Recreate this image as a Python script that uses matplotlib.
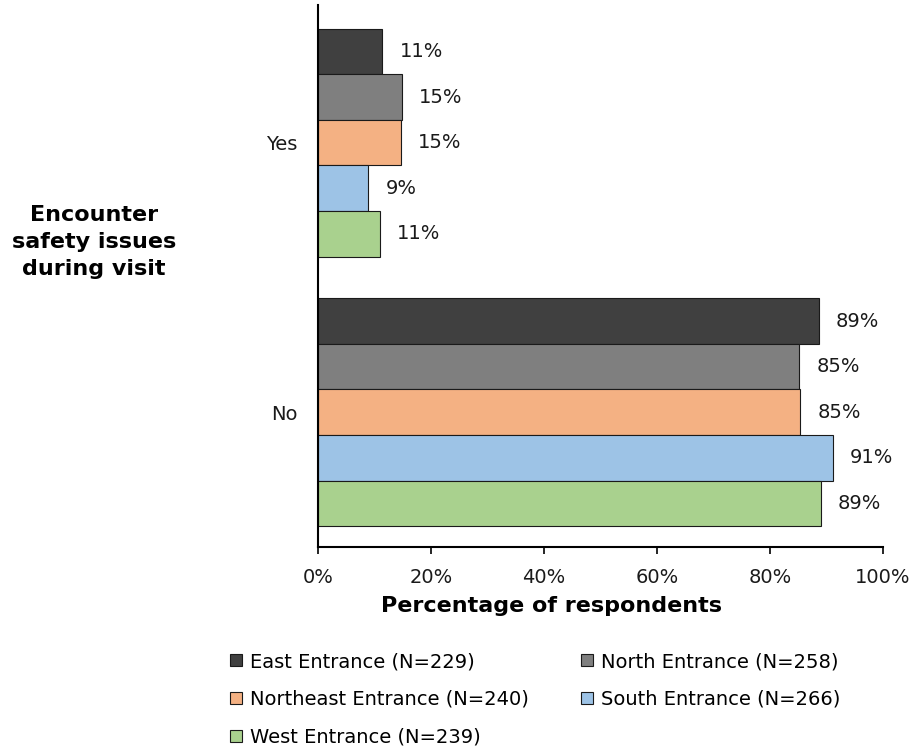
import matplotlib
matplotlib.use("Agg")
import matplotlib.pyplot as plt
import numpy as np

plt.rcParams['font.family'] = ['DejaVu Sans']

categories = ["No", "Yes"]
series = ["East Entrance (N=229)", "North Entrance (N=258)",
          "Northeast Entrance (N=240)", "South Entrance (N=266)",
          "West Entrance (N=239)"]
values = {
    "East Entrance (N=229)":      [88.6, 11.4],
    "North Entrance (N=258)":     [85.2, 14.8],
    "Northeast Entrance (N=240)": [85.4, 14.6],
    "South Entrance (N=266)":     [91.1, 8.9],
    "West Entrance (N=239)":      [89.0, 11.0],
}
colors = ["#404040", "#7f7f7f", "#f4b183", "#9dc3e6", "#a9d18e"]

fig = plt.figure(figsize=(9.14, 7.53), dpi=100)
ax = fig.add_axes([0.348, 0.2736, 0.618, 0.7194])

n = len(series)
bh = 0.169
y = np.arange(len(categories))
for i, s in enumerate(series):
    offs = (n - 1) / 2 * bh - i * bh
    bars = ax.barh(y + offs, values[s], height=bh, color=colors[i],
                   edgecolor="#1a1a1a", linewidth=0.8, label=s)
    for b, v in zip(bars, values[s]):
        ax.text(b.get_width() + 3.0, b.get_y() + b.get_height() / 2,
                f"{v:.0f}%", va="center", ha="left", fontsize=14, color="#1a1a1a")

ax.set_xlim(0, 100)
ax.set_ylim(-0.5, 1.51)
ax.set_xticks(np.arange(0, 101, 20))
ax.set_xticklabels([f"{t}%" for t in range(0, 101, 20)], fontsize=14, color="#1a1a1a")
ax.set_yticks(y)
ax.set_yticklabels(categories, fontsize=14, color="#1a1a1a")
ax.tick_params(axis="y", length=0, pad=15)
ax.tick_params(axis="x", length=5, width=1.2, direction="out", pad=10)
for sp in ["top", "right"]:
    ax.spines[sp].set_visible(False)
for sp in ["left", "bottom"]:
    ax.spines[sp].set_linewidth(1.5)
    ax.spines[sp].set_color("black")

ax.set_xlabel("Percentage of respondents", fontsize=16, fontweight="bold")
ax.xaxis.set_label_coords(0.414, -0.09)
fig.text(0.103, 0.679, "Encounter\nsafety issues\nduring visit", ha="center", va="center",
         fontsize=16, fontweight="bold", linespacing=1.45)

handles, labels = ax.get_legend_handles_labels()
order = [0, 2, 4, 1, 3]
fig.legend([handles[k] for k in order], [labels[k] for k in order],
           loc="upper left", bbox_to_anchor=(0.252, 0.134), ncol=2, frameon=False,
           fontsize=14, handlelength=0.6, handleheight=0.6, handletextpad=0.4,
           columnspacing=2.7, labelspacing=0.97, borderaxespad=0, borderpad=0)

fig.savefig("out.png", dpi=100)
